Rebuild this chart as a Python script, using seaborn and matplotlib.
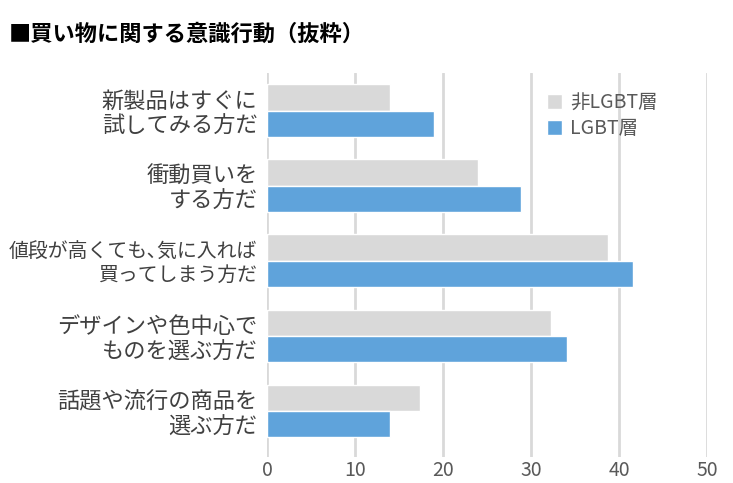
import pandas as pd
import seaborn as sns
import matplotlib.pyplot as plt

# データ
categories = [
    "新製品はすぐに\n試してみる方だ",
    "衝動買いを\nする方だ",
    "値段が高くても､気に入れば\n買ってしまう方だ",
    "デザインや色中心で\nものを選ぶ方だ",
    "話題や流行の商品を\n選ぶ方だ",
]
non_lgbt = [14.0, 23.9, 38.7, 32.2, 17.4]
lgbt = [18.9, 28.8, 41.5, 34.1, 14.0]
groups = ["非LGBT層", "LGBT層"]
xticks = [0, 10, 20, 30, 40, 50]

df = pd.DataFrame({
    "cat": categories * 2,
    "val": non_lgbt + lgbt,
    "grp": [groups[0]] * 5 + [groups[1]] * 5,
})

sns.set_style("white")
plt.rcParams["font.family"] = ["Noto Sans CJK JP", "DejaVu Sans"]

fig = plt.figure(figsize=(7.33, 4.83), dpi=100)
ax = fig.add_axes([0.3645, 0.054, 0.6005, 0.795])

sns.barplot(data=df, y="cat", x="val", hue="grp", hue_order=groups,
            palette=["#D9D9D9", "#5FA3DB"], orient="h", width=0.7,
            saturation=1, ax=ax, zorder=3)

ax.set_xlim(0, 50)
ax.set_ylim(4.61, -0.5)
ax.set_xticks(xticks)
ax.set_xlabel("")
ax.set_ylabel("")
ax.grid(axis="x", color="#D9D9D9", linewidth=2, zorder=0)
for s in ax.spines.values():
    s.set_visible(False)
ax.tick_params(axis="both", length=0)
ax.tick_params(axis="x", labelsize=14, labelcolor="#595959", pad=2)
ax.tick_params(axis="y", labelsize=16, labelcolor="#404040", pad=7)
for lab in ax.get_yticklabels():
    lab.set_linespacing(1.1)
    if "値段" in lab.get_text():
        lab.set_fontsize(14.3)

ax.legend(loc="upper left", bbox_to_anchor=(0.595, 0.995), frameon=False,
          fontsize=14, labelcolor="#595959", handlelength=0.8,
          handleheight=0.8, handletextpad=0.4, labelspacing=0.25)

fig.text(0.012, 0.928, "■買い物に関する意識行動（抜粋）", fontsize=16,
         fontweight="bold", va="center", color="black")

fig.savefig("out.png", dpi=100)
